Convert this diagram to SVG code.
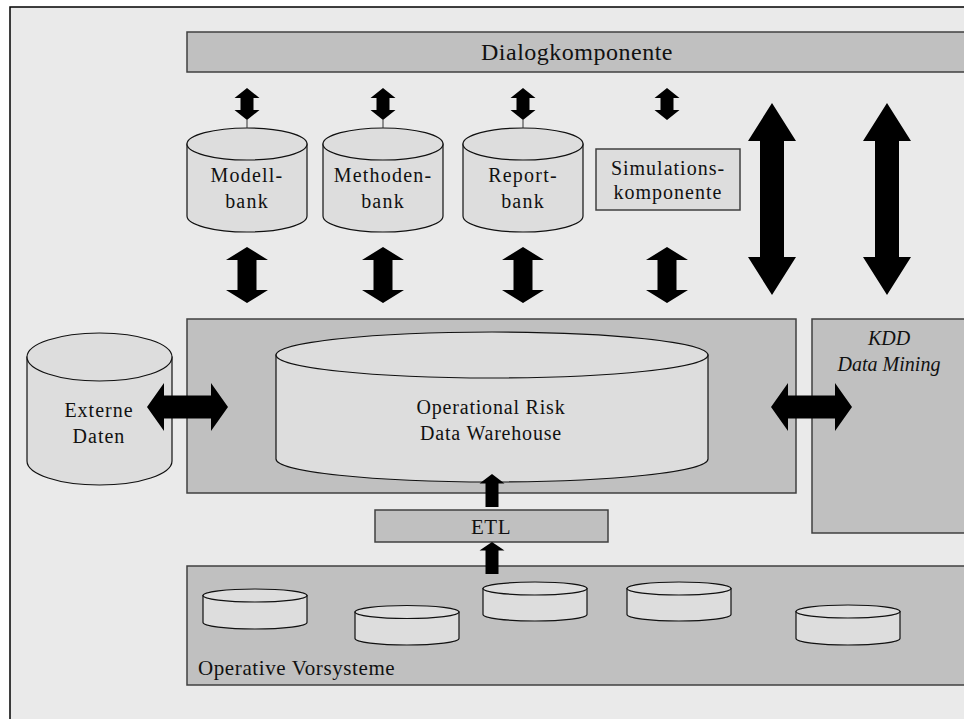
<svg xmlns="http://www.w3.org/2000/svg" width="964" height="719" viewBox="0 0 964 719">
  <style>
    .box { fill: #c0c0c0; stroke: #404040; stroke-width: 1.5; }
    .cyl { fill: #dddddd; stroke: #111111; stroke-width: 1.2; }
    .lbl { font-family: "Liberation Serif", "Times New Roman", serif; fill: #111111; text-anchor: middle; }
    .arrow { fill: #000000; stroke: none; }
    .tick { stroke: #333333; stroke-width: 1; }
  </style>

  <!-- page background and frame -->
  <rect x="0" y="0" width="964" height="719" fill="#ffffff"/>
  <rect x="10" y="7" width="1000" height="760" fill="#eaeaea" stroke="#000000" stroke-width="1.5"/>

  <g id="dialogkomponente">
    <rect class="box" x="187" y="32" width="790" height="40"/>
    <text class="lbl" x="577" y="60" font-size="24" letter-spacing="0.5">Dialogkomponente</text>
  </g>

  <g id="modellbank">
    <path class="cyl" d="M187,144 L187,216 A60,16 0 0 0 307,216 L307,144 Z"/>
    <ellipse class="cyl" cx="247" cy="144" rx="60" ry="16"/>
    <text class="lbl" x="247" y="182" font-size="20" letter-spacing="1.2">Modell-</text>
    <text class="lbl" x="247" y="208" font-size="20" letter-spacing="1.2">bank</text>
  </g>

  <g id="methodenbank">
    <path class="cyl" d="M323,144 L323,216 A60,16 0 0 0 443,216 L443,144 Z"/>
    <ellipse class="cyl" cx="383" cy="144" rx="60" ry="16"/>
    <text class="lbl" x="383" y="182" font-size="20" letter-spacing="1.2">Methoden-</text>
    <text class="lbl" x="383" y="208" font-size="20" letter-spacing="1.2">bank</text>
  </g>

  <g id="reportbank">
    <path class="cyl" d="M463,144 L463,216 A60,16 0 0 0 583,216 L583,144 Z"/>
    <ellipse class="cyl" cx="523" cy="144" rx="60" ry="16"/>
    <text class="lbl" x="523" y="182" font-size="20" letter-spacing="1.2">Report-</text>
    <text class="lbl" x="523" y="208" font-size="20" letter-spacing="1.2">bank</text>
  </g>

  <g id="simulationskomponente">
    <rect x="596" y="149" width="144" height="61" fill="#dddddd" stroke="#404040" stroke-width="1.5"/>
    <text class="lbl" x="668" y="175" font-size="20" letter-spacing="1">Simulations-</text>
    <text class="lbl" x="668" y="199" font-size="20" letter-spacing="1">komponente</text>
  </g>

  <g id="externe-daten">
    <path class="cyl" d="M27,357 L27,461 A72.5,24 0 0 0 172,461 L172,357 Z"/>
    <ellipse class="cyl" cx="99.5" cy="357" rx="72.5" ry="24"/>
    <text class="lbl" x="99" y="417" font-size="20" letter-spacing="1">Externe</text>
    <text class="lbl" x="99" y="443" font-size="20" letter-spacing="1">Daten</text>
  </g>

  <g id="data-warehouse">
    <rect class="box" x="187" y="319" width="609" height="174"/>
    <path class="cyl" d="M276,355 L276,459 A216,23 0 0 0 708,459 L708,355 Z"/>
    <ellipse class="cyl" cx="492" cy="355" rx="216" ry="23"/>
    <text class="lbl" x="491" y="414" font-size="20" letter-spacing="0.8">Operational Risk</text>
    <text class="lbl" x="491" y="440" font-size="20" letter-spacing="0.8">Data Warehouse</text>
  </g>

  <g id="kdd-data-mining">
    <rect class="box" x="812" y="319" width="170" height="214"/>
    <text class="lbl" x="889" y="345" font-size="20" font-style="italic">KDD</text>
    <text class="lbl" x="889" y="371" font-size="20" font-style="italic">Data Mining</text>
  </g>

  <g id="etl">
    <rect class="box" x="375" y="510" width="233" height="32"/>
    <text class="lbl" x="491" y="534" font-size="21" letter-spacing="0.5">ETL</text>
  </g>

  <g id="operative-vorsysteme">
    <rect class="box" x="187" y="566" width="790" height="119"/>
    <path class="cyl" d="M203,595.5 L203,622.5 A52,6.5 0 0 0 307,622.5 L307,595.5 Z"/>
    <ellipse class="cyl" cx="255" cy="595.5" rx="52" ry="6.5"/>
    <path class="cyl" d="M355,612 L355,638.5 A52,6.5 0 0 0 459,638.5 L459,612 Z"/>
    <ellipse class="cyl" cx="407" cy="612" rx="52" ry="6.5"/>
    <path class="cyl" d="M483,588.5 L483,614.5 A52,6.5 0 0 0 587,614.5 L587,588.5 Z"/>
    <ellipse class="cyl" cx="535" cy="588.5" rx="52" ry="6.5"/>
    <path class="cyl" d="M627,588.5 L627,614.5 A52,6.5 0 0 0 731,614.5 L731,588.5 Z"/>
    <ellipse class="cyl" cx="679" cy="588.5" rx="52" ry="6.5"/>
    <path class="cyl" d="M796,611.5 L796,638.5 A52,6.5 0 0 0 900,638.5 L900,611.5 Z"/>
    <ellipse class="cyl" cx="848" cy="611.5" rx="52" ry="6.5"/>
    <text class="lbl" x="198" y="675" font-size="21" letter-spacing="0.6" style="text-anchor:start">Operative Vorsysteme</text>
  </g>

  <g id="connectors">
    <!-- Dialogkomponente <-> banks and simulation -->
    <path class="arrow" d="M247,88 L259.5,98 L253.5,98 L253.5,110 L259.5,110 L247,120 L234.5,110 L240.5,110 L240.5,98 L234.5,98 Z"/>
    <path class="arrow" d="M383,88 L395.5,98 L389.5,98 L389.5,110 L395.5,110 L383,120 L370.5,110 L376.5,110 L376.5,98 L370.5,98 Z"/>
    <path class="arrow" d="M523,88 L535.5,98 L529.5,98 L529.5,110 L535.5,110 L523,120 L510.5,110 L516.5,110 L516.5,98 L510.5,98 Z"/>
    <path class="arrow" d="M667,88 L679.5,98 L673.5,98 L673.5,110 L679.5,110 L667,120 L654.5,110 L660.5,110 L660.5,98 L654.5,98 Z"/>
    <line class="tick" x1="247" y1="120" x2="247" y2="128"/>
    <line class="tick" x1="383" y1="120" x2="383" y2="128"/>
    <line class="tick" x1="523" y1="120" x2="523" y2="128"/>

    <!-- banks and simulation <-> Data Warehouse -->
    <path class="arrow" d="M247,247 L268,260 L256.5,260 L256.5,290 L268,290 L247,303 L226,290 L237.5,290 L237.5,260 L226,260 Z"/>
    <path class="arrow" d="M383,247 L404,260 L392.5,260 L392.5,290 L404,290 L383,303 L362,290 L373.5,290 L373.5,260 L362,260 Z"/>
    <path class="arrow" d="M523,247 L544,260 L532.5,260 L532.5,290 L544,290 L523,303 L502,290 L513.5,290 L513.5,260 L502,260 Z"/>
    <path class="arrow" d="M667,247 L688,260 L676.5,260 L676.5,290 L688,290 L667,303 L646,290 L657.5,290 L657.5,260 L646,260 Z"/>

    <!-- Dialogkomponente <-> Data Warehouse / KDD -->
    <path class="arrow" d="M772,103 L796,141 L784,141 L784,257 L796,257 L772,295 L748,257 L760,257 L760,141 L748,141 Z"/>
    <path class="arrow" d="M887,103 L911,141 L899,141 L899,257 L911,257 L887,295 L863,257 L875,257 L875,141 L863,141 Z"/>

    <!-- Externe Daten <-> Data Warehouse -->
    <path class="arrow" d="M147,407 L164,383 L164,395.5 L211,395.5 L211,383 L228,407 L211,431 L211,418.5 L164,418.5 L164,431 Z"/>
    <!-- Data Warehouse <-> KDD -->
    <path class="arrow" d="M771,407 L788,383 L788,395.5 L835,395.5 L835,383 L852,407 L835,431 L835,418.5 L788,418.5 L788,431 Z"/>

    <!-- ETL -> Data Warehouse, Vorsysteme -> ETL -->
    <path class="arrow" d="M492,474 L504.5,483.5 L498.5,483.5 L498.5,507 L485.5,507 L485.5,483.5 L479.5,483.5 Z"/>
    <path class="arrow" d="M492,542 L504.5,550.5 L498.5,550.5 L498.5,574 L485.5,574 L485.5,550.5 L479.5,550.5 Z"/>
  </g>
</svg>
